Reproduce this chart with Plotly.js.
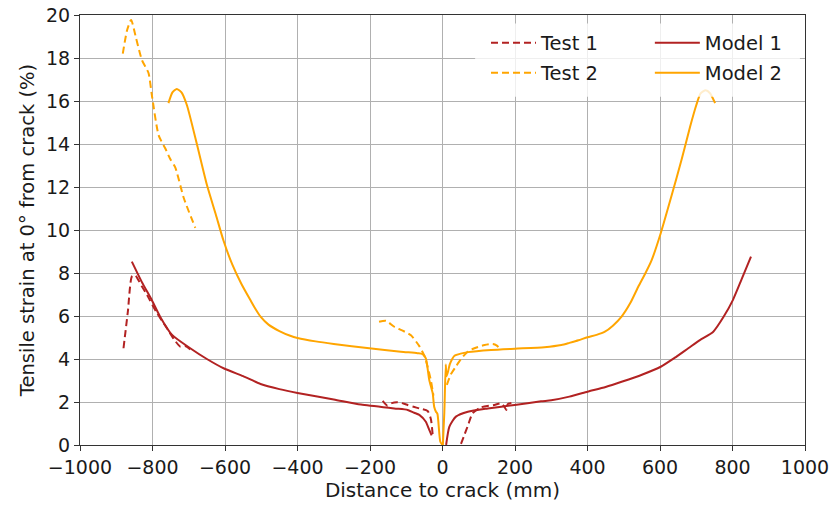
<!DOCTYPE html>
<html>
<head>
<meta charset="utf-8">
<script src="https://cdn.plot.ly/plotly-3.0.1.min.js"></script>
<style>html,body{margin:0;padding:0;background:#fff;}#chart{width:832px;height:510px;}</style>
</head>
<body>
<div id="chart"></div>
<script>
// Model 1 (solid red)
const model1X = [-857,-830,-802,-779,-746,-696,-650,-604,-550,-502,-450,-400,-300,-225,-133,-96,-78,-64,-46,-36.5,-30,
  null,
  10,19,37,70,125,199,272,300,350,400,450,494,550,602,640,678,710,747,775,801,825,851];
const model1Y = [8.53,7.6,6.74,5.97,5.12,4.5,4.0,3.57,3.2,2.84,2.6,2.42,2.12,1.88,1.7,1.63,1.5,1.4,1.08,0.7,0.45,
  null,
  0,0.85,1.32,1.55,1.7,1.86,2.03,2.08,2.25,2.48,2.7,2.94,3.27,3.64,4.05,4.5,4.88,5.27,5.95,6.74,7.7,8.76];

// Model 2 (solid orange)
const model2X = [-756,-745,-733,-720,-705,-677,-650,-625,-604,-580,-555,-530,-515,-502,-480,-450,-420,-400,-350,-300,-202,-115,-69,-55,-46,-36.5,-27,-23,-18,-14,-6,0,
  null,
  1,5,9,11,15,20,26,33,50,70,134,200,281,328,350,375,400,425,448,470,494,518,540,560,577,602,632,660,683,700,712,726,738,752];
const model2Y = [15.9,16.4,16.56,16.4,15.8,13.95,12.1,10.7,9.5,8.4,7.5,6.74,6.3,5.97,5.6,5.3,5.08,4.98,4.82,4.7,4.5,4.34,4.27,4.23,4.03,3.02,2.4,1.78,1.55,1.45,0.15,0,
  null,
  0,1.5,3.75,3.2,3.4,3.75,3.98,4.15,4.25,4.32,4.42,4.48,4.55,4.65,4.75,4.87,5.01,5.12,5.27,5.55,5.97,6.6,7.36,8.0,8.6,9.85,11.6,13.3,14.8,15.8,16.35,16.5,16.36,15.9];

// Test 1 (dashed red)
const test1X = [-880,-868,-857,-848,-830,-815,-790,-760,-740,-723,-710,-696,
  null,
  -165,-152,-140,-124,-106,-96,-80,-64,-41,-32,-27,
  null,
  51,60,70,83,106,143,162,170,176,180,190];
const test1Y = [4.5,6.2,7.83,7.9,7.4,6.98,6.2,5.43,4.9,4.57,4.6,4.45,
  null,
  2.05,1.83,1.95,1.99,1.92,1.86,1.78,1.7,1.58,1.2,0.45,
  null,
  0.05,0.45,0.9,1.47,1.75,1.86,1.94,1.8,1.63,1.9,1.95];

// Test 2 (dashed orange)
const test2X = [-882,-870,-859,-845,-829,-811,-802,-783,-765,-751,-737,-714,-682,
  null,
  -175,-156,-133,-110,-87,-64,-50,-41,-32,-25,
  null,
  12,23.5,37,51,70,88,116,139,150,157];
const test2Y = [18.2,19.3,19.77,18.9,17.9,17.3,16.3,14.4,13.8,13.3,12.9,11.5,10.1,
  null,
  5.73,5.78,5.5,5.32,5.1,4.6,4.15,3.64,3.0,2.3,
  null,
  2.8,3.3,3.65,4.0,4.35,4.5,4.65,4.7,4.62,4.5];

const xTicks = [-1000,-800,-600,-400,-200,0,200,400,600,800,1000];
const yTicks = [0,2,4,6,8,10,12,14,16,18,20];

const RED = '#b22222';
const ORANGE = '#ffa500';
const FONT = 'DejaVu Sans, sans-serif';
const TXT = '#1a1a1a';

const traces = [
  {x: model1X, y: model1Y, name: 'Model 1', mode: 'lines', legend: 'legend2',
   line: {color: RED, width: 2, shape: 'spline', smoothing: 0.6}},
  {x: model2X, y: model2Y, name: 'Model 2', mode: 'lines', legend: 'legend4',
   line: {color: ORANGE, width: 2, shape: 'spline', smoothing: 0.6}},
  {x: test1X, y: test1Y, name: 'Test 1', mode: 'lines', legend: 'legend',
   line: {color: RED, width: 2, dash: '7px,4px', shape: 'spline', smoothing: 0.6}},
  {x: test2X, y: test2Y, name: 'Test 2', mode: 'lines', legend: 'legend3',
   line: {color: ORANGE, width: 2, dash: '7px,4px', shape: 'spline', smoothing: 0.6}}
];

function lg(x, y) {
  return {x: x, y: y, xanchor: 'left', yanchor: 'middle', bgcolor: 'rgba(0,0,0,0)',
          borderwidth: 0, font: {family: FONT, size: 19.5, color: TXT}, itemwidth: 45};
}

const layout = {
  width: 832, height: 510,
  margin: {l: 80, r: 27, t: 15, b: 65},
  paper_bgcolor: '#fff', plot_bgcolor: '#fff',
  font: {family: FONT, size: 19, color: TXT},
  showlegend: true,
  legend: lg(0.56, 0.935),
  legend2: lg(0.786, 0.935),
  legend3: lg(0.56, 0.865),
  legend4: lg(0.786, 0.865),
  xaxis: {
    range: [-1000, 1000], tickvals: xTicks, ticks: 'outside', ticklen: 5, tickcolor: '#333',
    showline: true, linecolor: '#333', linewidth: 1, mirror: true,
    showgrid: true, gridcolor: '#b0b0b0', gridwidth: 1, zeroline: false,
    tickfont: {family: FONT, size: 19, color: TXT},
    title: {text: 'Distance to crack (mm)', font: {family: FONT, size: 20, color: TXT}, standoff: 6}
  },
  yaxis: {
    range: [0, 20], tickvals: yTicks, ticks: 'outside', ticklen: 5, tickcolor: '#333',
    showline: true, linecolor: '#333', linewidth: 1, mirror: true,
    showgrid: true, gridcolor: '#b0b0b0', gridwidth: 1, zeroline: false,
    tickfont: {family: FONT, size: 19, color: TXT},
    title: {text: 'Tensile strain at 0° from crack (%)', font: {family: FONT, size: 19.5, color: TXT}, standoff: 6}
  },
  shapes: [{
    type: 'rect', xref: 'paper', yref: 'paper', x0: 0.545, x1: 0.993, y0: 0.81, y1: 0.98,
    fillcolor: 'rgba(255,255,255,0.8)', line: {width: 0}, layer: 'above'
  }]
};

Plotly.newPlot('chart', traces, layout, {displayModeBar: false, staticPlot: true});
</script>
</body>
</html>
